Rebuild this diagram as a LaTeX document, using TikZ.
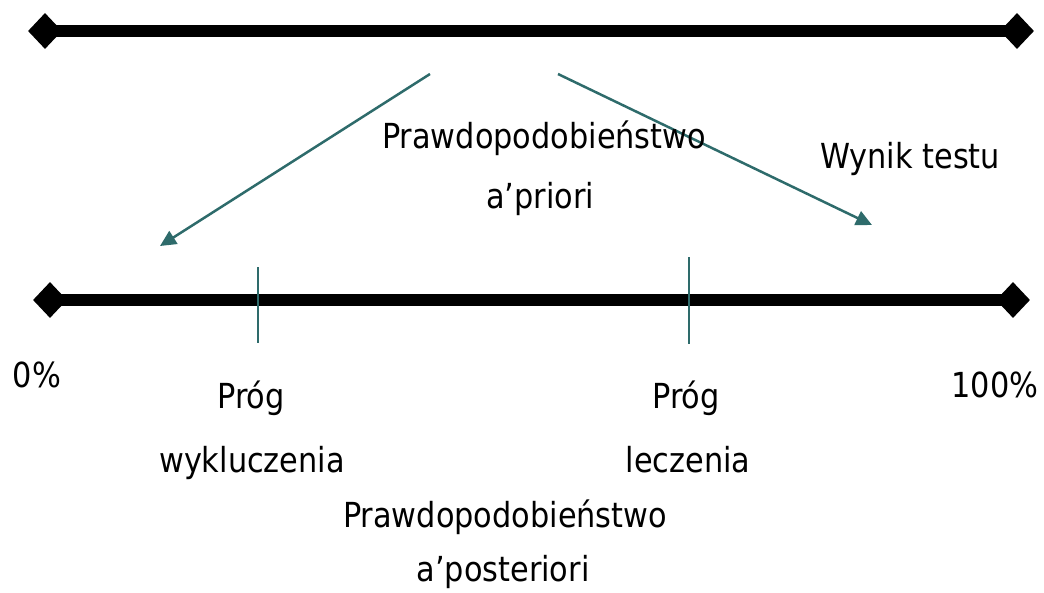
\documentclass[tikz,border=0pt]{standalone}
\usepackage{fontspec}
\setmainfont{DejaVu Sans}[FakeStretch=0.88]
\usetikzlibrary{shapes.geometric,arrows.meta}
\definecolor{teal}{RGB}{46,107,107}
\tikzset{
  endmark/.style={diamond,fill=black,inner sep=0pt,minimum width=34pt,minimum height=36pt},
  scale line/.style={line width=12pt,black},
  pointer/.style={teal,line width=2.5pt,-{Triangle[length=16pt,width=15pt]}},
  threshold/.style={teal,line width=2pt},
  label/.style={anchor=base,inner sep=0pt,font=\fontsize{34.5}{40}\selectfont}
}
\begin{document}
\begin{tikzpicture}[x=1pt,y=-1pt]
\useasboundingbox (0,0) rectangle (1044,592);

% upper scale: pre-test probability
\node[endmark] (tl) at (45,31) {};
\node[endmark] (tr) at (1017,31) {};
\draw[scale line] (tl.center) -- (tr.center);

% lower scale: post-test probability
\node[endmark] (bl) at (50,300) {};
\node[endmark] (br) at (1013,300) {};
\draw[scale line] (bl.center) -- (br.center);

% thresholds on the lower scale
\coordinate (t1a) at (258,267);
\coordinate (t1b) at (258,343);
\coordinate (t2a) at (688.5,257);
\coordinate (t2b) at (688.5,344);
\draw[threshold] (t1a) -- (t1b);
\draw[threshold] (t2a) -- (t2b);

% test result shifts the probability
\coordinate (la) at (430,74);
\coordinate (lb) at (160,246);
\coordinate (ra) at (558,74);
\coordinate (rb) at (872,225);
\draw[pointer] (la) -- (lb);
\draw[pointer] (ra) -- (rb);

% labels
\node[label] (prior1) at (544,148) {Prawdopodobieństwo};
\node[label] (prior2) at (540,208) {a’priori};
\node[label] (test) at (910,168) {Wynik testu};
\node[label] (zero) at (37,387) {0\%};
\node[label] (hundred) at (995,397) {100\%};
\node[label] (th1a) at (251,408) {Próg};
\node[label] (th1b) at (252,472) {wykluczenia};
\node[label] (th2a) at (686,408) {Próg};
\node[label] (th2b) at (688,472) {leczenia};
\node[label] (post1) at (505,527) {Prawdopodobieństwo};
\node[label] (post2) at (503,581) {a’posteriori};
\end{tikzpicture}
\end{document}
